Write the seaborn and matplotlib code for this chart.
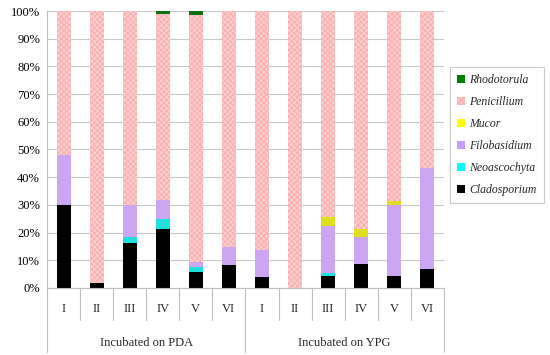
import numpy as np
import pandas as pd
import matplotlib
matplotlib.use("Agg")
import matplotlib.pyplot as plt
import matplotlib.transforms as mtransforms
from matplotlib.patches import Patch
from matplotlib.ticker import PercentFormatter, MultipleLocator
import seaborn as sns

media = ["Incubated on PDA", "Incubated on YPG"]
samples = ["I", "II", "III", "IV", "V", "VI"]
cladosporium = [29.8, 1.8, 16.1, 21.4, 5.8, 8.4, 4.0, 0.0, 4.2, 8.8, 4.2, 6.9]
neoascochyta = [0.0, 0.0, 2.4, 3.6, 1.8, 0.0, 0.0, 0.0, 1.2, 0.0, 0.0, 0.0]
filobasidium = [18.3, 0.0, 11.3, 6.8, 1.7, 6.3, 9.7, 0.0, 17.0, 9.6, 25.6, 36.3]
mucor = [0.0, 0.0, 0.0, 0.0, 0.0, 0.0, 0.0, 0.0, 3.2, 3.0, 1.5, 0.0]
penicillium = [51.9, 98.2, 70.2, 67.1, 89.3, 85.3, 86.3, 100.0, 74.4, 78.6, 68.7, 56.8]
rhodotorula = [0.0, 0.0, 0.0, 1.1, 1.4, 0.0, 0.0, 0.0, 0.0, 0.0, 0.0, 0.0]

taxa = ["Cladosporium", "Neoascochyta", "Filobasidium", "Mucor", "Penicillium", "Rhodotorula"]
colors = {"Cladosporium": "#000000", "Neoascochyta": "#00FFFF", "Filobasidium": "#CC99FF",
          "Mucor": "#FFFF00", "Penicillium": "#FFC6C6", "Rhodotorula": "#008000"}
hatch_color = "#FFA4A4"
values = {"Cladosporium": cladosporium, "Neoascochyta": neoascochyta, "Filobasidium": filobasidium,
          "Mucor": mucor, "Penicillium": penicillium, "Rhodotorula": rhodotorula}

keys = [f"{m}|{s}" for m in media for s in samples]
df = pd.DataFrame({"key": keys})
cum = np.zeros(len(keys))
for t in taxa:
    cum = cum + np.array(values[t])
    df[t] = cum.copy()

sns.set_theme(style="white")
plt.rcParams["font.family"] = ["Liberation Serif", "DejaVu Serif"]
plt.rcParams["hatch.linewidth"] = 0.5

fig = plt.figure(figsize=(5.5, 3.55), dpi=100)
ax = fig.add_axes([0.0855, 0.189, 0.807 - 0.0855, 0.969 - 0.189])

for t in reversed(taxa):
    kw = dict(color=colors[t], linewidth=0, edgecolor=colors[t])
    if t == "Penicillium":
        kw.update(hatch="xxxxxx", edgecolor=hatch_color)
    sns.barplot(data=df, x="key", y=t, order=keys, width=0.42, ax=ax, **kw)

ax.set_ylim(0, 100)
ax.set_xlim(-0.5, len(keys) - 0.5)
ax.yaxis.set_major_locator(MultipleLocator(10))
ax.yaxis.set_major_formatter(PercentFormatter(decimals=0))
ax.set_axisbelow(True)
ax.grid(axis="y", color="#C8C8C8", linewidth=0.8)
ax.set_xlabel("")
ax.set_ylabel("")
for s in ["top", "right"]:
    ax.spines[s].set_visible(False)
for s in ["left", "bottom"]:
    ax.spines[s].set_color("#BFBFBF")
    ax.spines[s].set_linewidth(0.8)
ax.tick_params(axis="y", labelsize=9, length=3, color="#BFBFBF", pad=2, labelcolor="#000000")
ax.set_xticks(range(len(keys)))
ax.set_xticklabels([])
ax.tick_params(axis="x", length=0)

trans = mtransforms.blended_transform_factory(ax.transData, ax.transAxes)
ax_h = 277.0
for i, k in enumerate(keys):
    ax.text(i, -21 / ax_h, k.split("|")[1], transform=trans, ha="center", va="center", fontsize=9)
n = len(samples)
for b in range(len(keys) + 1):
    x = b - 0.5
    depth = 64 if b % n == 0 else 32
    ax.plot([x, x], [0, -depth / ax_h], transform=trans, color="#BFBFBF", lw=0.8, clip_on=False)
for g, m in enumerate(media):
    ax.text(g * n + (n - 1) / 2, -55 / ax_h, m, transform=trans, ha="center", va="center", fontsize=9)

handles = [Patch(facecolor=colors[t], edgecolor=(hatch_color if t == "Penicillium" else colors[t]),
                 hatch=("xxxxxx" if t == "Penicillium" else None), linewidth=0) for t in reversed(taxa)]
leg = fig.legend(handles, list(reversed(taxa)), loc="upper left", bbox_to_anchor=(0.818, 0.811),
                 bbox_transform=fig.transFigure, frameon=True, fancybox=False, borderaxespad=0,
                 prop={"style": "italic", "size": 8.5}, handlelength=0.65, handleheight=0.65,
                 handletextpad=0.4, labelspacing=0.85, borderpad=0.6)
leg.get_frame().set_edgecolor("#BFBFBF")
leg.get_frame().set_linewidth(0.8)

fig.savefig("out.png", dpi=100)
